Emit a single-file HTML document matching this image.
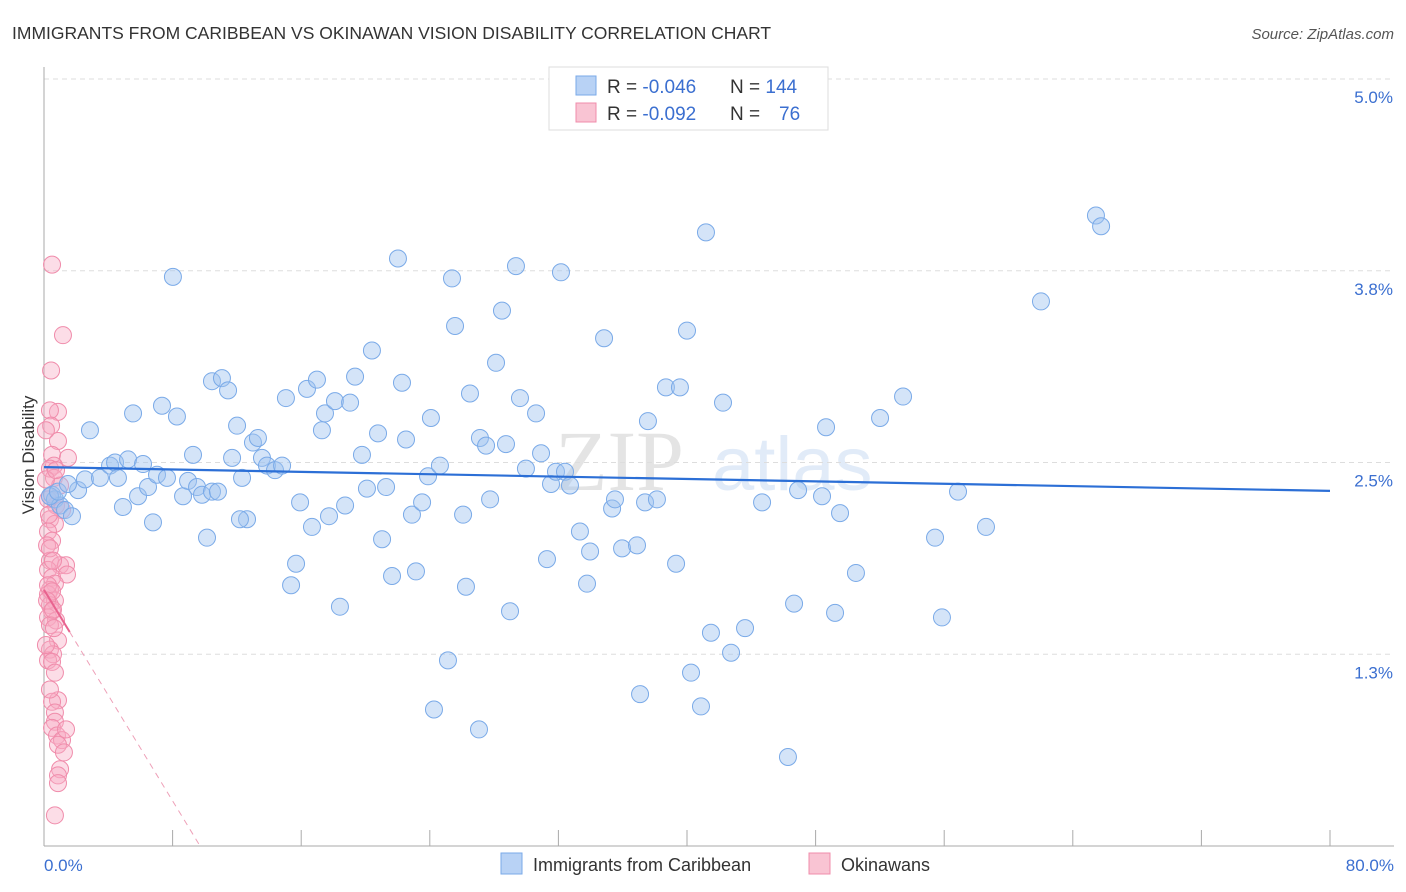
<!DOCTYPE html>
<html><head><meta charset="utf-8"><style>
body{margin:0;background:#fff;font-family:"Liberation Sans",sans-serif}
svg{display:block}
</style></head><body>
<svg id="chart" width="1406" height="892" xmlns="http://www.w3.org/2000/svg">
<text x="12" y="39" font-size="17.5" fill="#333">IMMIGRANTS FROM CARIBBEAN VS OKINAWAN VISION DISABILITY CORRELATION CHART</text>
<text x="1394" y="39" font-size="15" fill="#555" font-style="italic" text-anchor="end">Source: ZipAtlas.com</text>
<g opacity="0.22">
<text x="555" y="490" font-family="Liberation Serif,serif" font-size="86" fill="#888">ZIP</text>
<text x="712" y="490" font-size="76" fill="#7aa6e0">atlas</text>
</g>
<g id="grid"></g>
<g id="axes"></g>
<g id="pink"></g>
<g id="blue"></g>
<g id="trends"></g>
<text x="34" y="455" font-size="17" fill="#333" text-anchor="middle" transform="rotate(-90 34 455)">Vision Disability</text>
<g>
<rect x="549" y="67" width="279" height="63" fill="#fff" stroke="#ddd"/>
<rect x="576" y="76" width="20" height="19" fill="#b8d2f5" stroke="#7aaae8"/>
<rect x="576" y="103" width="20" height="19" fill="#f9c4d3" stroke="#f08cab"/>
<text x="607" y="93" font-size="19" fill="#333">R = <tspan fill="#3b6fd0">-0.046</tspan><tspan x="730">N = </tspan><tspan fill="#3b6fd0">144</tspan></text>
<text x="607" y="120" font-size="19" fill="#333">R = <tspan fill="#3b6fd0">-0.092</tspan><tspan x="730">N = </tspan><tspan x="779" fill="#3b6fd0">76</tspan></text>
</g>
<g>
<rect x="501" y="853" width="21" height="21" fill="#b8d2f5" stroke="#7aaae8"/>
<text x="533" y="871" font-size="18" fill="#333">Immigrants from Caribbean</text>
<rect x="809" y="853" width="21" height="21" fill="#f9c4d3" stroke="#f08cab"/>
<text x="841" y="871" font-size="18" fill="#333">Okinawans</text>
</g>
</svg>
<script>
const yTicks=[1.25,2.5,3.75,5.0];
const yTickLabels=["1.3%","2.5%","3.8%","5.0%"];
const xTickLabels=["0.0%","80.0%"];
const blueX=[0.50,0.68,1.00,0.37,0.87,1.31,1.74,2.12,1.49,2.55,2.86,3.48,4.11,4.42,4.60,4.91,5.23,5.54,5.85,6.16,6.47,6.78,7.03,7.34,7.65,8.02,8.27,8.65,8.96,9.27,9.52,9.83,10.14,10.45,10.82,10.45,11.07,11.45,11.70,12.01,12.32,12.63,13.00,13.31,13.56,13.87,14.37,14.81,15.05,15.37,15.68,15.93,16.36,16.67,16.98,17.29,17.48,17.73,18.10,18.41,18.73,19.04,19.35,19.78,20.09,20.40,20.78,21.03,21.28,21.65,22.02,22.27,22.52,22.89,23.14,23.52,23.89,24.07,24.63,25.13,25.38,25.57,26.07,26.25,26.50,27.12,27.50,27.75,28.12,28.49,28.74,28.99,29.36,29.61,29.98,30.61,30.92,31.29,31.54,31.85,32.16,32.41,32.72,33.34,33.78,33.97,34.84,35.34,35.52,35.96,36.89,37.08,37.39,37.57,38.13,38.69,39.32,39.56,40.00,40.25,40.87,41.18,41.49,42.24,42.74,43.61,44.67,46.28,46.66,46.91,48.40,48.65,49.21,49.52,50.51,52.01,53.44,55.43,55.86,56.86,58.60,62.02,65.44,65.76,24.26,27.06,12.19];
const blueY=[2.29,2.26,2.22,2.28,2.31,2.19,2.15,2.32,2.36,2.39,2.71,2.40,2.48,2.50,2.40,2.21,2.52,2.82,2.28,2.49,2.34,2.11,2.42,2.87,2.40,3.71,2.80,2.28,2.38,2.55,2.34,2.29,2.01,2.31,2.31,3.03,3.05,2.97,2.53,2.74,2.40,2.13,2.63,2.66,2.53,2.48,2.45,2.48,2.92,1.70,1.84,2.24,2.98,2.08,3.04,2.71,2.82,2.15,2.90,1.56,2.22,2.89,3.06,2.55,2.33,3.23,2.69,2.00,2.34,1.76,3.83,3.02,2.65,2.16,1.79,2.24,2.41,2.79,2.48,1.21,3.70,3.39,2.16,1.69,2.95,2.66,2.61,2.26,3.15,3.49,2.62,1.53,3.78,2.92,2.46,2.82,2.56,1.87,2.36,2.44,3.74,2.44,2.35,2.05,1.71,1.92,3.31,2.20,2.26,1.94,1.96,0.99,2.24,2.77,2.26,2.99,1.84,2.99,3.36,1.13,0.91,4.00,1.39,2.89,1.26,1.42,2.24,0.58,1.58,2.32,2.28,2.73,1.52,2.17,1.78,2.79,2.93,2.01,1.49,2.31,2.08,3.55,4.11,4.04,0.89,0.76,2.13];
const pinkX=[0.50,1.18,0.44,0.87,0.37,0.44,0.87,0.50,1.49,0.62,0.37,0.62,1.00,0.37,0.75,1.12,0.37,0.68,0.25,0.50,0.19,0.37,1.00,1.37,1.43,0.25,0.50,0.68,0.37,0.25,0.68,0.37,0.50,0.25,0.75,0.37,0.87,0.37,0.56,0.25,0.50,0.68,0.87,0.50,0.68,0.68,0.50,0.81,1.12,0.87,1.24,1.00,0.87,0.87,0.68,0.25,0.37,0.50,0.62,0.19,0.12,0.25,0.75,0.12,1.37,0.37,0.56,0.31,0.56,0.12];
const pinkY=[3.79,3.33,3.10,2.83,2.84,2.74,2.64,2.55,2.53,2.48,2.46,2.40,2.35,2.28,2.22,2.19,2.13,2.10,2.05,1.99,1.96,1.86,1.83,1.83,1.77,1.80,1.75,1.71,1.67,1.64,1.60,1.57,1.53,1.49,1.47,1.44,1.34,1.28,1.25,1.21,1.20,1.13,0.95,0.94,0.87,0.81,0.77,0.72,0.69,0.66,0.61,0.50,0.46,0.41,0.20,1.70,1.94,1.66,1.42,1.60,2.39,2.26,2.45,2.71,0.76,1.02,1.86,2.16,1.54,1.31];
const blueTrend=[2.47,2.315];
const pinkTrend=[1.67,-0.172];

const NS="http://www.w3.org/2000/svg";
const X0=44,X1=1330,Y0=846,PPU=153.4;
const sx=v=>X0+(v/80)*(X1-X0);
const sy=v=>Y0-v*PPU;
function mk(t,a,p){const e=document.createElementNS(NS,t);for(const k in a)e.setAttribute(k,a[k]);p.appendChild(e);return e;}
const grid=document.getElementById('grid'),axes=document.getElementById('axes');
yTicks.forEach((t,i)=>{
 const l=mk('line',{x1:X0,x2:1394,y1:sy(t),y2:sy(t),stroke:'#ddd','stroke-dasharray':'5,4'},grid);
 
 
 const tx=mk('text',{x:1393,y:sy(t)+24,'font-size':17,fill:'#3b6fd0','text-anchor':'end'},axes);
 tx.textContent=yTickLabels[i];
 
 
});
const ya=mk('line',{x1:X0,x2:X0,y1:67,y2:Y0,stroke:'#aaa'},axes);


const xa=mk('line',{x1:X0,x2:1394,y1:Y0,y2:Y0,stroke:'#aaa'},axes);


for(let v=0;v<=80;v+=8){
 const t=mk('line',{x1:sx(v),x2:sx(v),y1:Y0,y2:Y0-16,stroke:'#aaa'},axes);
 
 
}
[[0,'start',X0],[1,'end',1394]].forEach(([i,a,x])=>{
 const t=mk('text',{x:x,y:871,'font-size':17,fill:'#3b6fd0','text-anchor':a},axes);
 t.textContent=xTickLabels[i];
 
 
});
const pg=document.getElementById('pink');
pinkX.forEach((x,i)=>{
 const c=mk('circle',{cx:sx(x),cy:sy(pinkY[i]),r:8.5,fill:'rgba(248,170,195,0.4)',stroke:'#f08cab','stroke-width':1},pg);
 
 
});
const bg=document.getElementById('blue');
blueX.forEach((x,i)=>{
 const c=mk('circle',{cx:sx(x),cy:sy(blueY[i]),r:8.5,fill:'rgba(160,196,240,0.45)',stroke:'#7aaae8','stroke-width':1},bg);
 
 
});
const tg=document.getElementById('trends');
const bt=mk('line',{x1:sx(0),y1:sy(blueTrend[0]),x2:sx(80),y2:sy(blueTrend[1]),stroke:'#2c6fd6','stroke-width':2.2},tg);


const pEnd=-pinkTrend[0]/pinkTrend[1];
const ps=mk('line',{x1:sx(0),y1:sy(pinkTrend[0]),x2:sx(1.6),y2:sy(pinkTrend[0]+pinkTrend[1]*1.6),stroke:'#e8638f','stroke-width':2},tg);


const pd=mk('line',{x1:sx(1.6),y1:sy(pinkTrend[0]+pinkTrend[1]*1.6),x2:sx(pEnd),y2:sy(0),stroke:'#eea0b8','stroke-width':1,'stroke-dasharray':'6,5'},tg);


</script>
</body></html>
